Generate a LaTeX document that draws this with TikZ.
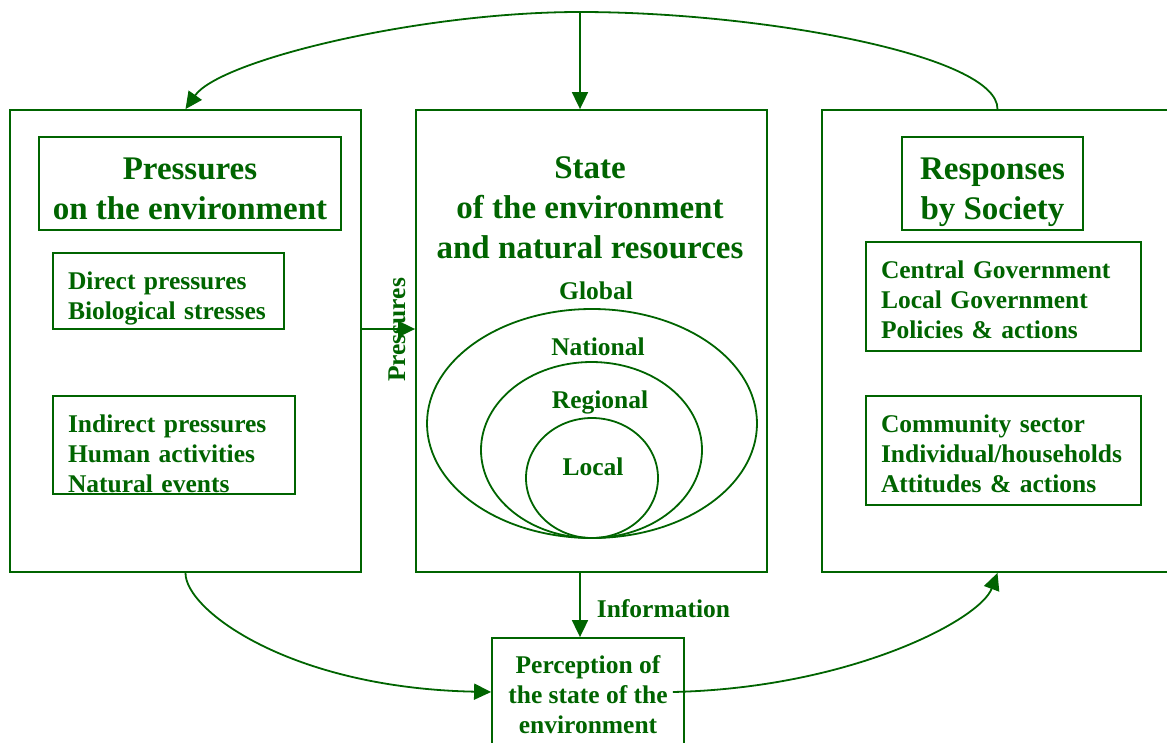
\documentclass[tikz,border=0pt]{standalone}
\usepackage{fontspec}
\setmainfont{Liberation Serif}
\usepackage{tikz}
\usetikzlibrary{arrows.meta,positioning}
\definecolor{darkgreen}{RGB}{0,100,0}
\tikzstyle{bigbox} = [rectangle, draw, line width=1.8pt, inner sep=0pt,
    minimum width=351pt, minimum height=462pt]
\tikzstyle{title} = [font=\fontsize{33}{40}\selectfont\bfseries, align=center]
\tikzstyle{titlebox} = [title, rectangle, draw, line width=1.8pt, inner sep=0pt,
    minimum height=93pt]
\tikzstyle{block} = [rectangle, draw, line width=1.8pt, align=left,
    font=\fontsize{25.5}{30}\selectfont\bfseries, inner xsep=15pt, inner ysep=0pt]
\tikzstyle{tag} = [font=\fontsize{25.5}{30}\selectfont\bfseries, inner sep=0pt]
\tikzstyle{line} = [draw, line width=1.8pt, -{Triangle[length=17pt,width=16pt]}]
\tikzstyle{ring} = [draw, line width=1.8pt]
% strut that pushes the first line of a box down
\newcommand{\pushdown}[1]{\rule{0pt}{#1}}

\begin{document}
\begin{tikzpicture}[x=1pt, y=-1pt, color=darkgreen]
  \useasboundingbox (0,0) rectangle (1167,742);
    % Place nodes
    \node [bigbox] (pressuresBox) at (185.5,341) {};
    \node [bigbox] (stateBox) at (591.5,341) {};
    \node [bigbox] (responsesBox) at (997.5,341) {};

    \node [titlebox, minimum width=302pt] (pressuresTitle) at (190,183.5)
        {\pushdown{32pt}Pressures\\on the environment};
    \node [block, text width=201pt, minimum height=76pt] (directPressures) at (168.5,291)
        {\pushdown{32pt}Direct pressures\\Biological stresses};
    \node [block, text width=212pt, minimum height=98pt] (indirectPressures) at (174,445)
        {\pushdown{36pt}Indirect pressures\\Human activities\\Natural events};

    \node [title] (stateTitle) at (590,207.5)
        {State\\of the environment\\and natural resources};
    \draw [ring] (592,423.5) ellipse [x radius=165, y radius=114.5];
    \draw [ring] (591.5,450) ellipse [x radius=110.5, y radius=88];
    \draw [ring] (592,478) ellipse [x radius=66, y radius=60];
    \node [tag] (global) at (596,291) {Global};
    \node [tag] (national) at (598,347) {National};
    \node [tag] (regional) at (600,402) {Regional};
    \node [tag] (local) at (593,467) {Local};

    \node [titlebox, minimum width=181pt] (responsesTitle) at (992.5,183.5)
        {\pushdown{40pt}Responses\\by Society};
    \node [block, text width=245pt, minimum height=109pt] (government) at (1003.5,296.5)
        {\pushdown{24pt}Central Government\\Local Government\\Policies \& actions};
    \node [block, text width=245pt, minimum height=109pt] (community) at (1003.5,450.5)
        {\pushdown{24pt}Community sector\\Individual/households\\Attitudes \& actions};

    \node [block, align=center, inner xsep=0pt, minimum width=192pt, minimum height=108pt]
        (perception) at (588,692)
        {\pushdown{23pt}Perception of\\the state of the\\environment};

    \coordinate (topPoint) at (580,12);

    % Draw edges
    \path [line] ([yshift=12pt]pressuresBox.east) -- ([yshift=12pt]stateBox.west);
    \node [tag, rotate=90] (pressuresTag) at (397,330) {Pressures};
    \path [line] ([xshift=-11.5pt]stateBox.south) --
        node [tag, right=16pt, yshift=-4pt] {Information} ([xshift=-8pt]perception.north);

    \path [line] (responsesBox.north) .. controls (998,55) and (760,12) .. (topPoint)
        .. controls (420,12) and (220,60) .. (pressuresBox.north);
    \path [line] (topPoint) -- ([xshift=-11.5pt]stateBox.north);

    \path [line] (pressuresBox.south) .. controls (185,610) and (290,688) .. (perception.west);
    \path [line] ([xshift=-12pt]perception.east) .. controls (850,688) and (980,620) .. (responsesBox.south);

\end{tikzpicture}
\end{document}
